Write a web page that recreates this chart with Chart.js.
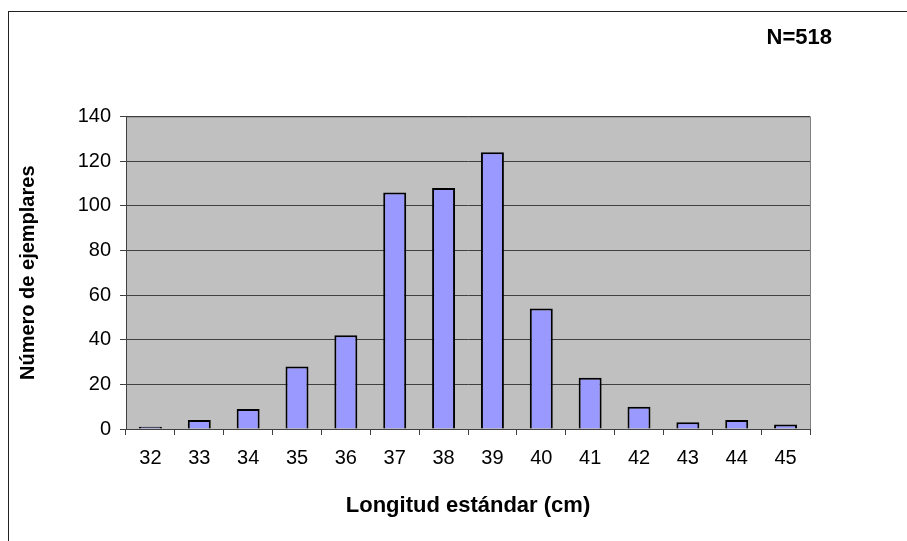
<!DOCTYPE html>
<html>
<head>
<meta charset="utf-8">
<script src="https://cdn.jsdelivr.net/npm/chart.js@4.4.1/dist/chart.umd.min.js"></script>
<style>
  html, body { margin: 0; padding: 0; background: #fff; }
  #wrap { width: 907px; height: 541px; position: relative; }
</style>
</head>
<body>
<div id="wrap"><canvas id="lengthChart"></canvas></div>
<script>
// Longitud estándar (cm) -> número de ejemplares
const lengths = ['32', '33', '34', '35', '36', '37', '38', '39', '40', '41', '42', '43', '44', '45'];
const specimenCounts = [1, 4, 9, 28, 42, 106, 108, 124, 54, 23, 10, 3, 4, 2];
const yTicks = [0, 20, 40, 60, 80, 100, 120, 140];
const sampleLabel = 'N=518';

const FONT = 'Arial, "Liberation Sans", sans-serif';

// gray plot background, plot frame, outer frame and N label
const chartDecor = {
    id: 'chartDecor',
    beforeDraw(chart) {
        const {ctx, chartArea: a} = chart;
        ctx.save();
        ctx.fillStyle = '#c0c0c0';
        ctx.fillRect(a.left, a.top, a.right - a.left, a.bottom - a.top);
        ctx.strokeStyle = '#808080';
        ctx.lineWidth = 1;
        ctx.strokeRect(a.left + 0.5, a.top + 0.5, a.right - a.left, a.bottom - a.top);
        ctx.restore();
    },
    afterDraw(chart) {
        const ctx = chart.ctx;
        ctx.save();
        ctx.strokeStyle = '#222';
        ctx.lineWidth = 1;
        ctx.strokeRect(8.5, 11.5, 1200, 1200);
        ctx.fillStyle = '#000';
        ctx.font = 'bold 22px ' + FONT;
        ctx.textAlign = 'right';
        ctx.textBaseline = 'middle';
        ctx.fillText(sampleLabel, 832, 38);
        ctx.restore();
    }
};

const ctx = document.getElementById('lengthChart').getContext('2d');
const lengthChart = new Chart(ctx, {
    type: 'bar',
    data: {
        labels: lengths,
        datasets: [{
            label: 'Número de ejemplares',
            data: specimenCounts,
            backgroundColor: '#9999ff',
            borderColor: '#000',
            borderWidth: 2,
            borderSkipped: 'bottom',
            categoryPercentage: 1,
            barPercentage: 0.47
        }]
    },
    options: {
        responsive: true,
        maintainAspectRatio: false,
        animation: false,
        layout: {
            padding: { top: 116.5, right: 97, left: 0, bottom: 0 }
        },
        plugins: {
            legend: { display: false },
            tooltip: { enabled: false }
        },
        scales: {
            x: {
                offset: true,
                grid: {
                    offset: true,
                    drawOnChartArea: false,
                    drawTicks: true,
                    tickLength: 6,
                    color: '#404040'
                },
                border: { color: '#404040', width: 1 },
                ticks: {
                    color: '#000',
                    padding: 11,
                    maxRotation: 0,
                    font: { family: FONT, size: 20 }
                },
                title: {
                    display: true,
                    text: 'Longitud estándar (cm)',
                    color: '#000',
                    padding: { top: 0, bottom: 22 },
                    font: { family: FONT, size: 22, weight: 'bold' }
                },
                afterFit(scale) { scale.height = 112; }
            },
            y: {
                min: 0,
                max: 140,
                afterBuildTicks(scale) {
                    scale.ticks = yTicks.map(v => ({ value: v }));
                },
                grid: {
                    color: '#404040',
                    tickLength: 6
                },
                border: { color: '#404040', width: 1 },
                ticks: {
                    color: '#000',
                    padding: 9,
                    font: { family: FONT, size: 20 }
                },
                title: {
                    display: true,
                    text: 'Número de ejemplares',
                    color: '#000',
                    padding: { top: 16, bottom: 0 },
                    font: { family: FONT, size: 20, weight: 'bold' }
                },
                afterFit(scale) { scale.width = 126; }
            }
        }
    },
    plugins: [chartDecor]
});
</script>
</body>
</html>
